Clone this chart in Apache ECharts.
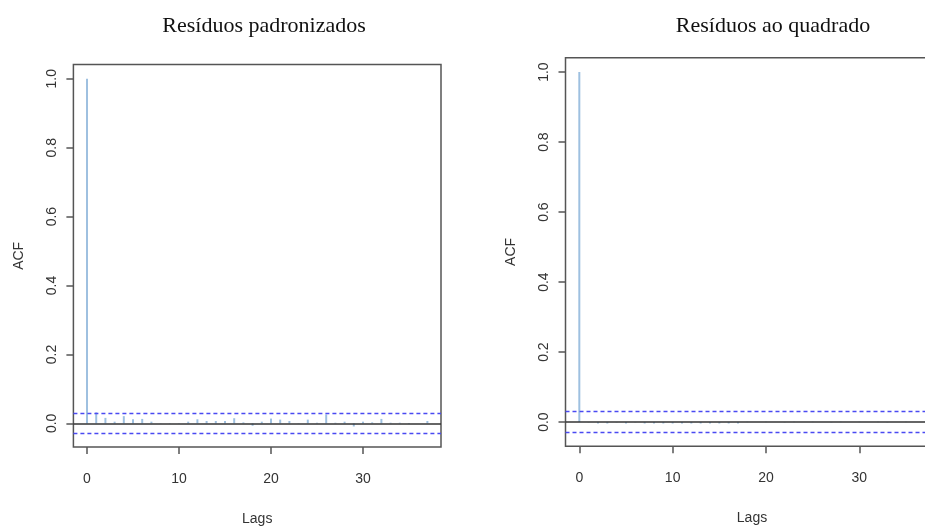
<!DOCTYPE html>
<html>
<head>
<meta charset="utf-8">
<style>
  html, body { margin: 0; padding: 0; background: #ffffff; }
  #chart { width: 925px; height: 527px; }
</style>
<script src="https://cdn.jsdelivr.net/npm/echarts@6/dist/echarts.min.js"></script>
</head>
<body>
<div id="chart"></div>
<script>
// Lags 0..37 for both correlograms
const lags = [0,1,2,3,4,5,6,7,8,9,10,11,12,13,14,15,16,17,18,19,20,21,22,23,24,25,26,27,28,29,30,31,32,33,34,35,36,37];

// ACF of the standardized residuals
const acfStd = [1.000, 0.032, 0.016, 0.005, 0.021, 0.012, 0.013, 0.005, 0.001, 0.001,
                0.001, 0.005, 0.012, 0.007, 0.007, 0.007, 0.015, 0.003, -0.007, 0.005,
                0.014, 0.011, 0.007, 0.001, 0.011, 0.002, 0.026, 0.002, 0.005, -0.009,
                0.005, 0.003, 0.013, 0.002, 0.002, -0.002, 0.000, 0.007];

// ACF of the squared residuals
const acfSq = [1.000, -0.001, -0.004, -0.004, -0.001, -0.004, -0.001, -0.004, -0.004, -0.004,
               -0.004, -0.004, -0.004, -0.004, -0.004, -0.004, -0.004, -0.004, 0.001, 0.000,
               0.001, 0.000, -0.001, 0.001, 0.000, 0.001, 0.000, -0.001, 0.001, 0.000,
               0.001, 0.000, 0.001, -0.001, 0.000, 0.001, 0.000, 0.001];

// 95% confidence bound (±1.96/sqrt(n))
const ciBound = 0.028;

const titles = ['Resíduos padronizados', 'Resíduos ao quadrado'];
const xTicks = [0, 10, 20, 30];
const yTicks = [0, 0.2, 0.4, 0.6, 0.8, 1.0];
const xRange = [-1.48, 38.48];
const yRange = [-0.0688, 1.0411];

const sans = 'Liberation Sans, Arial, sans-serif';
const axisGrey = '#555555';
const spikeColor = '#9ec0e0';

function pair(vals) { return lags.map((l, i) => [l, vals[i]]); }

function xAxisFor(idx) {
  return {
    type: 'value', gridIndex: idx, min: xRange[0], max: xRange[1],
    name: 'Lags', nameLocation: 'middle', nameGap: 65,
    nameTextStyle: { fontFamily: sans, fontSize: 14, color: '#333' },
    axisLine: { show: false, onZero: false },
    splitLine: { show: false },
    axisTick: { show: true, inside: false, length: 7, customValues: xTicks,
                lineStyle: { color: axisGrey, width: 1.5 } },
    axisLabel: { customValues: xTicks, margin: 25, fontFamily: sans, fontSize: 14, color: '#333',
                 formatter: v => String(Math.round(v)) }
  };
}

function yAxisFor(idx) {
  return {
    type: 'value', gridIndex: idx, min: yRange[0], max: yRange[1],
    name: 'ACF', nameLocation: 'middle', nameGap: 47, nameRotate: 90,
    nameTextStyle: { fontFamily: sans, fontSize: 14, color: '#333' },
    axisLine: { show: false, onZero: false },
    splitLine: { show: false },
    axisTick: { show: true, inside: false, length: 7, customValues: yTicks,
                lineStyle: { color: axisGrey, width: 1.5 } },
    axisLabel: { customValues: yTicks, rotate: 90, margin: 14, fontFamily: sans, fontSize: 14, color: '#333',
                 formatter: v => v.toFixed(1) }
  };
}

function spikes(idx, vals) {
  return {
    type: 'bar', xAxisIndex: idx, yAxisIndex: idx,
    data: pair(vals), barWidth: 2, barGap: '-100%',
    itemStyle: { color: spikeColor },
    silent: true, animation: false,
    markLine: {
      silent: true, symbol: 'none', animation: false, label: { show: false },
      data: [
        { yAxis: 0, lineStyle: { color: '#333333', width: 1.5, type: 'solid' } },
        { yAxis: ciBound, lineStyle: { color: '#4a4af2', width: 1.3, type: [4, 3] } },
        { yAxis: -ciBound, lineStyle: { color: '#4a4af2', width: 1.3, type: [4, 3] } }
      ]
    }
  };
}

const chart = echarts.init(document.getElementById('chart'), null, { renderer: 'canvas' });
chart.setOption({
  backgroundColor: '#ffffff',
  animation: false,
  title: [
    { text: titles[0], left: 259, top: 10, textAlign: 'center',
      textStyle: { fontFamily: 'Liberation Serif, Times New Roman, serif', fontSize: 22, fontWeight: 'normal', color: '#111' } },
    { text: titles[1], left: 768, top: 10, textAlign: 'center',
      textStyle: { fontFamily: 'Liberation Serif, Times New Roman, serif', fontSize: 22, fontWeight: 'normal', color: '#111' } }
  ],
  grid: [
    { left: 73.4, top: 64.6, width: 367.6, height: 382.5, show: true, outerBoundsMode: 'none',
      borderColor: axisGrey, borderWidth: 1.5, backgroundColor: 'transparent' },
    { left: 565.5, top: 57.7, width: 373, height: 388.5, show: true, outerBoundsMode: 'none',
      borderColor: axisGrey, borderWidth: 1.5, backgroundColor: 'transparent' }
  ],
  xAxis: [xAxisFor(0), xAxisFor(1)],
  yAxis: [yAxisFor(0), yAxisFor(1)],
  series: [spikes(0, acfStd), spikes(1, acfSq)]
});
</script>
</body>
</html>
